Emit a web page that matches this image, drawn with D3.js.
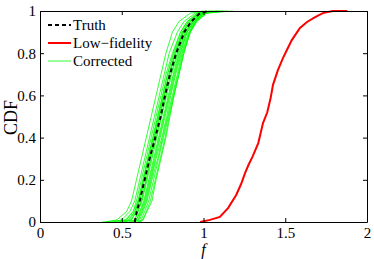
<!DOCTYPE html>
<html><head><meta charset="utf-8">
<script src="https://cdn.jsdelivr.net/npm/d3@7"></script>
<style>body{margin:0;background:#fff}svg{display:block}</style>
</head><body>
<script>
// ---- data ----
const xTicks = [0, 0.5, 1, 1.5, 2];
const xTickLabels = ["0", "0.5", "1", "1.5", "2"];
const yTicks = [0, 0.2, 0.4, 0.6, 0.8, 1];
const yTickLabels = ["0", "0.2", "0.4", "0.6", "0.8", "1"];
const legendLabels = ["Truth", "Low\u2212fidelity", "Corrected"];

// CDF levels at which each corrected curve's f values are read
const cdfLevels = [0, 0.01, 0.05, 0.1, 0.2, 0.3, 0.4, 0.5, 0.6, 0.7, 0.8, 0.9, 0.95, 0.99, 1];
const truthF = [0.58, 0.582, 0.592, 0.61, 0.64, 0.67, 0.705, 0.738, 0.765, 0.795, 0.833, 0.882, 0.925, 0.978, 1.03];

const corrected1  = [0.40, 0.47, 0.53, 0.56, 0.59, 0.62, 0.65, 0.68, 0.71, 0.74, 0.77, 0.81, 0.85, 0.92, 1.00];
const corrected2  = [0.45, 0.50, 0.55, 0.58, 0.61, 0.64, 0.67, 0.70, 0.73, 0.76, 0.79, 0.84, 0.88, 0.95, 1.05];
const corrected3  = [0.38, 0.52, 0.57, 0.59, 0.62, 0.65, 0.68, 0.71, 0.74, 0.77, 0.81, 0.86, 0.90, 0.97, 1.08];
const corrected4  = [0.48, 0.53, 0.57, 0.60, 0.63, 0.66, 0.69, 0.72, 0.75, 0.78, 0.82, 0.87, 0.91, 0.98, 1.10];
const corrected5  = [0.50, 0.55, 0.58, 0.61, 0.64, 0.67, 0.70, 0.73, 0.76, 0.79, 0.83, 0.88, 0.92, 1.00, 1.15];
const corrected6  = [0.52, 0.56, 0.59, 0.62, 0.65, 0.68, 0.71, 0.74, 0.77, 0.80, 0.84, 0.89, 0.93, 0.99, 1.06];
const corrected7  = [0.55, 0.58, 0.60, 0.625, 0.655, 0.685, 0.715, 0.745, 0.775, 0.805, 0.845, 0.89, 0.935, 1.00, 1.12];
const corrected8  = [0.56, 0.59, 0.61, 0.635, 0.665, 0.695, 0.725, 0.755, 0.785, 0.815, 0.85, 0.895, 0.94, 1.01, 1.18];
const corrected9  = [0.57, 0.60, 0.62, 0.645, 0.675, 0.705, 0.735, 0.765, 0.795, 0.825, 0.86, 0.90, 0.945, 1.00, 1.08];
const corrected10 = [0.58, 0.60, 0.625, 0.65, 0.68, 0.71, 0.745, 0.775, 0.80, 0.83, 0.865, 0.91, 0.95, 1.01, 1.10];
const corrected11 = [0.59, 0.61, 0.63, 0.655, 0.685, 0.72, 0.75, 0.78, 0.81, 0.84, 0.87, 0.915, 0.955, 1.02, 1.12];
const corrected12 = [0.60, 0.62, 0.64, 0.665, 0.695, 0.725, 0.755, 0.785, 0.815, 0.845, 0.875, 0.92, 0.96, 1.02, 1.06];
const corrected13 = [0.60, 0.63, 0.65, 0.675, 0.705, 0.735, 0.765, 0.79, 0.82, 0.85, 0.88, 0.92, 0.955, 1.00, 1.05];
const corrected14 = [0.61, 0.63, 0.655, 0.685, 0.71, 0.74, 0.77, 0.795, 0.82, 0.85, 0.88, 0.915, 0.95, 0.99, 1.04];
const corrected15 = [0.54, 0.58, 0.60, 0.62, 0.65, 0.675, 0.70, 0.73, 0.76, 0.79, 0.825, 0.87, 0.91, 0.97, 1.03];
const corrected16 = [0.50, 0.56, 0.585, 0.605, 0.635, 0.66, 0.69, 0.72, 0.75, 0.78, 0.815, 0.86, 0.90, 0.96, 1.02];
const corrected17 = [0.44, 0.54, 0.58, 0.60, 0.63, 0.66, 0.695, 0.725, 0.755, 0.79, 0.83, 0.875, 0.92, 0.98, 1.09];
const corrected18 = [0.57, 0.59, 0.615, 0.64, 0.67, 0.70, 0.73, 0.76, 0.79, 0.82, 0.855, 0.90, 0.94, 1.00, 1.14];
const correctedSeries = [corrected1, corrected2, corrected3, corrected4, corrected5, corrected6,
  corrected7, corrected8, corrected9, corrected10, corrected11, corrected12, corrected13,
  corrected14, corrected15, corrected16, corrected17, corrected18];

// Low-fidelity empirical CDF (f, cdf)
const lowF   = [0.98, 1.04, 1.10, 1.15, 1.20, 1.23, 1.254, 1.275, 1.30, 1.335, 1.364, 1.39, 1.41, 1.425, 1.455, 1.486, 1.51, 1.54, 1.59, 1.633, 1.68, 1.73, 1.79, 1.88];
const lowCdf = [0, 0.01, 0.024, 0.066, 0.128, 0.18, 0.232, 0.27, 0.31, 0.374, 0.469, 0.52, 0.585, 0.65, 0.72, 0.777, 0.815, 0.862, 0.92, 0.948, 0.97, 0.99, 1.0, 1.0];

// ---- chart ----
const W = 374, H = 259;
const m = {left: 40, right: 7, top: 11, bottom: 37};
const svg = d3.select("body").append("svg").attr("width", W).attr("height", H);
const x = d3.scaleLinear().domain([0, 2]).range([m.left, W - m.right]);
const y = d3.scaleLinear().domain([0, 1]).range([H - m.bottom, m.top]);

svg.append("clipPath").attr("id", "clip").append("rect")
  .attr("x", x(0)).attr("y", y(1) - 1).attr("width", x(2) - x(0)).attr("height", y(0) - y(1) + 2);

const line = d3.line().x(d => x(d[0])).y(d => y(d[1]));
const g = svg.append("g").attr("clip-path", "url(#clip)");

correctedSeries.forEach(s => {
  g.append("path").datum(s.map((f, i) => [f, cdfLevels[i]]))
    .attr("d", line).attr("fill", "none").attr("stroke", "#00ff00").attr("stroke-width", 0.8);
});
g.append("path").datum(truthF.map((f, i) => [f, cdfLevels[i]]))
  .attr("d", line).attr("fill", "none").attr("stroke", "#000").attr("stroke-width", 2)
  .attr("stroke-dasharray", "4,3");
g.append("path").datum(lowF.map((f, i) => [f, lowCdf[i]]))
  .attr("d", line).attr("fill", "none").attr("stroke", "#ff0000").attr("stroke-width", 2);

// axes (MATLAB style box, inward ticks)
const font = "'Liberation Serif', 'Times New Roman', serif";
const tl = 4;
const axB = d3.axisBottom(x).tickValues(xTicks).tickFormat((d, i) => xTickLabels[i]).tickSizeInner(-tl).tickSizeOuter(0).tickPadding(5);
const axT = d3.axisTop(x).tickValues(xTicks).tickFormat("").tickSizeInner(-tl).tickSizeOuter(0);
const axL = d3.axisLeft(y).tickValues(yTicks).tickFormat((d, i) => yTickLabels[i]).tickSizeInner(-tl).tickSizeOuter(0).tickPadding(4);
const axR = d3.axisRight(y).tickValues(yTicks).tickFormat("").tickSizeInner(-tl).tickSizeOuter(0);

function style(sel) {
  sel.selectAll("path, line").attr("stroke", "#000").attr("stroke-width", 1);
  sel.selectAll("text").attr("font-family", font).attr("font-size", 15).attr("fill", "#000");
}
svg.append("g").attr("transform", `translate(0,${y(0)})`).call(axB).call(style);
svg.append("g").attr("transform", `translate(0,${y(1)})`).call(axT).call(style);
svg.append("g").attr("transform", `translate(${x(0)},0)`).call(axL).call(style);
svg.append("g").attr("transform", `translate(${x(2)},0)`).call(axR).call(style);

// axis labels
svg.append("text").attr("x", x(1)).attr("y", 255).attr("text-anchor", "middle")
  .attr("font-family", font).attr("font-style", "italic").attr("font-size", 16).text("f");
svg.append("text").attr("transform", `translate(17,${(y(0) + y(1)) / 2 + 1}) rotate(-90)`)
  .attr("text-anchor", "middle").attr("font-family", font).attr("font-size", 18).text("CDF");

// legend
const legStyles = [
  {stroke: "#000", w: 2, dash: "4,3"},
  {stroke: "#ff0000", w: 2, dash: null},
  {stroke: "#00ff00", w: 0.8, dash: null}
];
const leg = svg.append("g");
legendLabels.forEach((lab, i) => {
  const cy = 25 + i * 18;
  leg.append("line").attr("x1", 48).attr("x2", 71).attr("y1", cy).attr("y2", cy)
    .attr("stroke", legStyles[i].stroke).attr("stroke-width", legStyles[i].w)
    .attr("stroke-dasharray", legStyles[i].dash);
  leg.append("text").attr("x", 73).attr("y", cy + 5).attr("font-family", font).attr("font-size", 15)
    .text(lab);
});
</script>
</body></html>
